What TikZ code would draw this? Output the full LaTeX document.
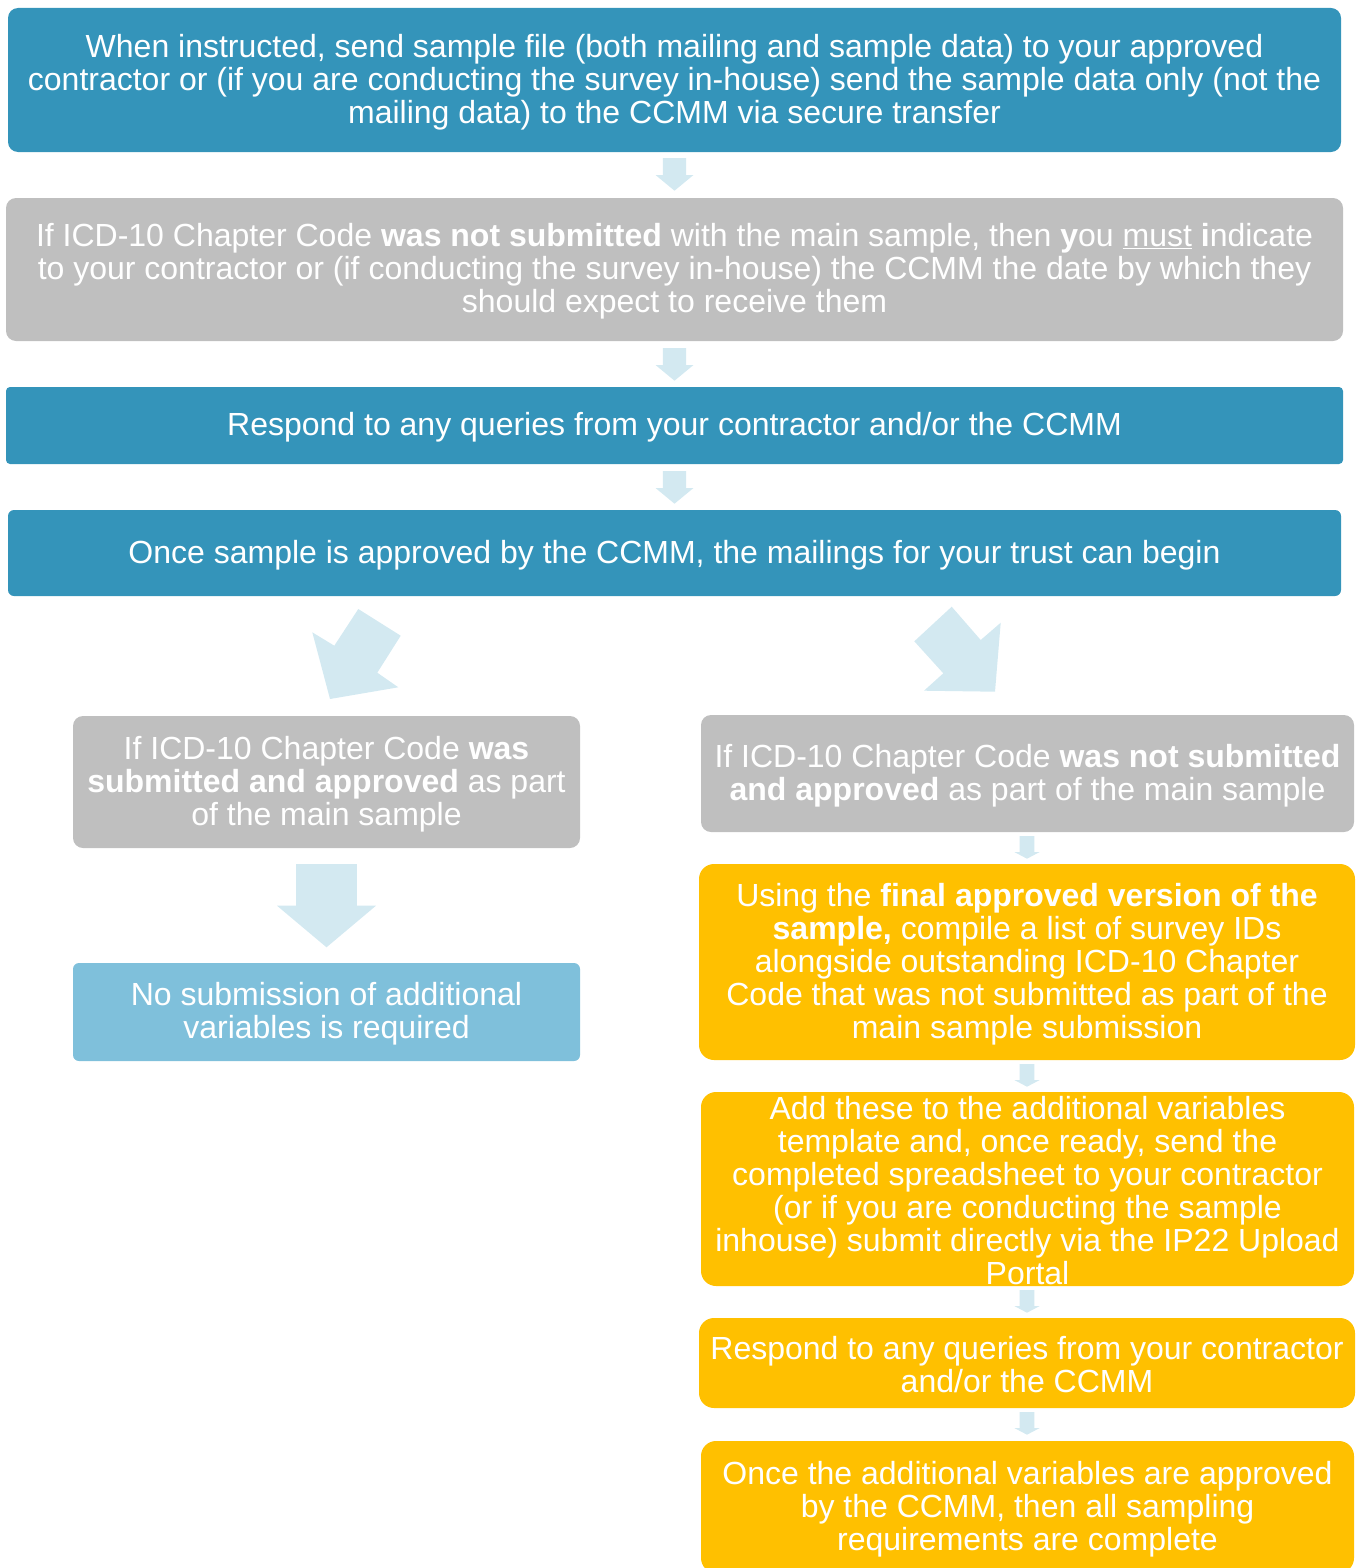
\documentclass[tikz,border=0pt]{standalone}
\usepackage{fontspec}
\setmainfont{Liberation Sans}
\definecolor{bluec}{HTML}{3494BA}
\definecolor{greyc}{HTML}{BFBFBF}
\definecolor{lbluec}{HTML}{7FC0DB}
\definecolor{yellowc}{HTML}{FFC000}
\definecolor{arrowc}{HTML}{D3E9F1}
\newcommand\dnarrow[6]{% cx, top, shaft half, head half, head start, tip
  \fill[arrowc] (#1-#3,#2) -- (#1+#3,#2) -- (#1+#3,#5) -- (#1+#4,#5) -- (#1,#6) -- (#1-#4,#5) -- (#1-#3,#5) -- cycle;}
\begin{document}
\begin{tikzpicture}[x=1pt,y=-1pt,
  box/.style={rectangle,inner sep=0pt,outer sep=0pt,rounded corners=10pt},
  ybox/.style={box,fill=yellowc,rounded corners=15pt},
  txt/.style={text=white,align=center,inner sep=0pt,yshift=-2pt,font=\fontsize{32}{33}\selectfont}]
\useasboundingbox (0,0) rectangle (1355,1568);
\clip (0,0) rectangle (1355,1568);
% boxes
\node[box,fill=bluec,minimum width=1333pt,minimum height=144pt] (b1) at (674.5,80) {};
\node[box,fill=greyc,minimum width=1337pt,minimum height=143pt] (b2) at (674.5,269.5) {};
\node[box,fill=bluec,minimum width=1337pt,minimum height=77pt,rounded corners=4pt] (b3) at (674.5,425.5) {};
\node[box,fill=bluec,minimum width=1333pt,minimum height=86pt,rounded corners=6pt] (b4) at (674.5,553) {};
\node[box,fill=greyc,minimum width=507pt,minimum height=132pt] (l1) at (326.5,782) {};
\node[box,fill=lbluec,minimum width=507pt,minimum height=98pt,rounded corners=6pt] (l2) at (326.5,1012) {};
\node[box,fill=greyc,minimum width=653pt,minimum height=117pt] (r1) at (1027.5,773.5) {};
\node[ybox,minimum width=656pt,minimum height=196pt] (r2) at (1027,962) {};
\node[ybox,minimum width=653pt,minimum height=194pt] (r3) at (1027.5,1189) {};
\node[ybox,minimum width=656pt,minimum height=90pt] (r4) at (1027,1363) {};
\node[ybox,minimum width=653pt,minimum height=132pt] (r5) at (1027.5,1507) {};
% texts
\node[txt] (t1) at (b1) {When instructed, send sample file (both mailing and sample data) to your approved\\contractor or (if you are conducting the survey in-house) send the sample data only (not the\\mailing data) to the CCMM via secure transfer};
\node[txt] (t2) at (b2) {If ICD-10 Chapter Code \textbf{was not submitted} with the main sample, then \textbf{y}ou \underline{must} \textbf{i}ndicate\\to your contractor or (if conducting the survey in-house) the CCMM the date by which they\\should expect to receive them};
\node[txt] (t3) at (b3) {Respond to any queries from your contractor and/or the CCMM};
\node[txt] (t4) at (b4) {Once sample is approved by the CCMM, the mailings for your trust can begin};
\node[txt] (tl1) at (l1) {If ICD-10 Chapter Code \textbf{was}\\\textbf{submitted and approved} as part\\of the main sample};
\node[txt] (tl2) at (l2) {No submission of additional\\variables is required};
\node[txt] (tr1) at (r1) {If ICD-10 Chapter Code \textbf{was not submitted}\\\textbf{and approved} as part of the main sample};
\node[txt] (tr2) at (r2) {Using the \textbf{final approved version of the}\\\textbf{sample,} compile a list of survey IDs\\alongside outstanding ICD-10 Chapter\\Code that was not submitted as part of the\\main sample submission};
\node[txt] (tr3) at (r3) {Add these to the additional variables\\template and, once ready, send the\\completed spreadsheet to your contractor\\(or if you are conducting the sample\\inhouse) submit directly via the IP22 Upload\\Portal};
\node[txt] (tr4) at (r4) {Respond to any queries from your contractor\\and/or the CCMM};
\node[txt] (tr5) at (r5) {Once the additional variables are approved\\by the CCMM, then all sampling\\requirements are complete};
% block arrows
\dnarrow{674.5}{158}{11.7}{19}{175}{190.7}
\dnarrow{674.5}{348}{11.7}{19}{365}{380.7}
\dnarrow{674.5}{471}{11.7}{19}{488}{503.7}
\dnarrow{326.5}{864}{30.3}{49.5}{905.7}{947.3}
\dnarrow{1027}{836}{7.3}{12.7}{852}{858.7}
\dnarrow{1027}{1064}{7.3}{12.7}{1080}{1086.7}
\dnarrow{1027}{1290}{7.3}{12.7}{1306}{1312.7}
\dnarrow{1027}{1412}{7.3}{12.7}{1428}{1434.7}
\fill[arrowc] (312.3,632.3) -- (334.3,645.7) -- (358.3,609) -- (400.7,635.7) -- (377.3,672.7) -- (398.3,687.3) -- (330,699) -- cycle;
\fill[arrowc] (951.7,606.7) -- (980.7,640) -- (1000.7,622.7) -- (995,691.7) -- (924,690.7) -- (943.3,673.3) -- (914.3,641.3) -- cycle;
\end{tikzpicture}
\end{document}
